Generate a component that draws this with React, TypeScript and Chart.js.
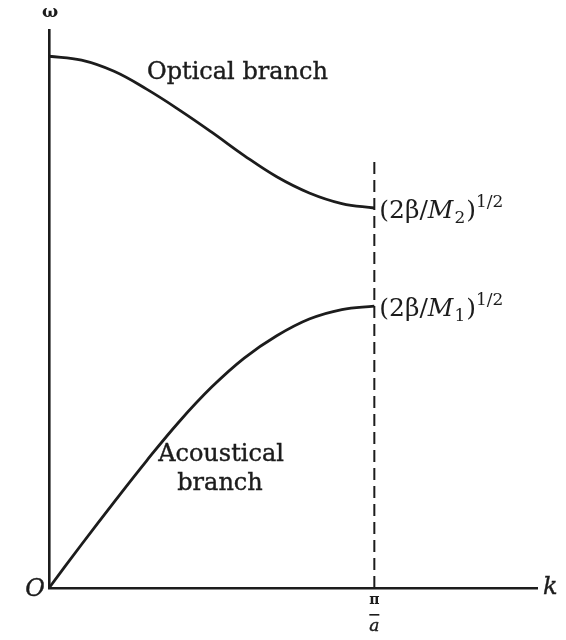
import { useEffect, useRef } from "react";
import { Chart, registerables } from "chart.js";

Chart.register(...registerables);

// Wave number k in units of pi/a, frequency omega in arbitrary units.
const kGrid = [0, 0.1, 0.2, 0.3, 0.4, 0.5, 0.6, 0.7, 0.8, 0.9, 1];
const wOptical = [0.953, 0.946, 0.926, 0.894, 0.857, 0.817, 0.775, 0.737, 0.708, 0.689, 0.681];
const wAcoustic = [0, 0.078, 0.154, 0.228, 0.298, 0.36, 0.412, 0.452, 0.482, 0.499, 0.505];

// Zone boundary at k = pi/a
const kZoneEdge = [1, 1];
const wZoneEdge = [0, 0.772];

const kMax = 1.5;
const wMax = 1;

const INK = "#1c1c1c";
const SERIF = '"DejaVu Serif", "Liberation Serif", serif';

type Piece = { text: string; font: string; dy?: number; dx?: number };

function drawPieces(ctx: CanvasRenderingContext2D, pieces: Piece[], x: number, y: number) {
  let cx = x;
  for (const p of pieces) {
    ctx.font = p.font;
    cx += p.dx ?? 0;
    ctx.fillText(p.text, cx, y + (p.dy ?? 0));
    cx += ctx.measureText(p.text).width;
  }
}

// slightly heavier text, like the printed labels
function inkText(ctx: CanvasRenderingContext2D, text: string, x: number, y: number) {
  ctx.fillText(text, x, y);
  ctx.strokeText(text, x, y);
}

const labelsPlugin = {
  id: "dispersionLabels",
  afterDraw(chart: any) {
    const { ctx } = chart;
    const xs = chart.scales.x;
    const ys = chart.scales.y;
    const x0 = xs.getPixelForValue(0);
    const y0 = ys.getPixelForValue(0);
    const xe = xs.getPixelForValue(1);
    ctx.save();
    ctx.fillStyle = INK;
    ctx.strokeStyle = INK;
    ctx.lineWidth = 0.4;

    // axis symbols
    ctx.textAlign = "center";
    ctx.textBaseline = "middle";
    ctx.font = `bold 17px ${SERIF}`;
    ctx.fillText("ω", x0 + 1, 13);

    ctx.textAlign = "right";
    ctx.font = `italic 24px ${SERIF}`;
    inkText(ctx, "O", x0 - 4, y0 + 2);

    ctx.textAlign = "left";
    inkText(ctx, "k", xs.right + 6, y0);

    // pi / a under the zone boundary
    ctx.textAlign = "center";
    ctx.font = `bold 14px ${SERIF}`;
    ctx.fillText("π", xe, y0 + 12);
    ctx.fillRect(xe - 5, y0 + 26, 10, 1.6);
    ctx.font = `italic 17px ${SERIF}`;
    inkText(ctx, "a", xe, y0 + 39);

    // branch names
    ctx.font = `24px ${SERIF}`;
    ctx.textAlign = "left";
    inkText(ctx, "Optical branch", 147, 73);
    ctx.textAlign = "center";
    inkText(ctx, "Acoustical", 221, 455);
    inkText(ctx, "branch", 220, 484);

    // limiting frequencies at the zone boundary
    ctx.textAlign = "left";
    ctx.textBaseline = "alphabetic";
    const main = `25px ${SERIF}`;
    const ital = `italic 25px ${SERIF}`;
    const small = `17px ${SERIF}`;
    const limits: [number, string][] = [
      [wOptical[wOptical.length - 1], "2"],
      [wAcoustic[wAcoustic.length - 1], "1"],
    ];
    for (const [w, idx] of limits) {
      const yb = ys.getPixelForValue(w) + 10;
      drawPieces(
        ctx,
        [
          { text: "(2β/", font: main },
          { text: "M", font: ital },
          { text: idx, font: small, dy: 5, dx: 1 },
          { text: ")", font: main, dx: 1 },
          { text: "1/2", font: small, dy: -11 },
        ],
        xe + 5,
        yb
      );
    }
    ctx.restore();
  },
};

export default function App() {
  const ref = useRef<HTMLCanvasElement | null>(null);

  useEffect(() => {
    if (!ref.current) return;
    const pts = (ks: number[], ws: number[]) => ks.map((k, i) => ({ x: k, y: ws[i] }));
    const chart = new Chart(ref.current, {
      type: "line",
      data: {
        datasets: [
          {
            label: "Optical branch",
            data: pts(kGrid, wOptical),
            borderColor: INK,
            borderWidth: 2.8,
            pointRadius: 0,
            tension: 0.4,
          },
          {
            label: "Acoustical branch",
            data: pts(kGrid, wAcoustic),
            borderColor: INK,
            borderWidth: 2.8,
            pointRadius: 0,
            tension: 0.4,
          },
          {
            label: "k = π/a",
            data: pts(kZoneEdge, wZoneEdge),
            borderColor: INK,
            borderWidth: 2,
            borderDash: [12, 6],
            pointRadius: 0,
          },
        ],
      },
      options: {
        responsive: false,
        animation: false,
        layout: { padding: { left: 49, right: 29, top: 30, bottom: 52 } },
        plugins: { legend: { display: false }, tooltip: { enabled: false } },
        scales: {
          x: {
            type: "linear",
            min: 0,
            max: kMax,
            ticks: { display: false },
            grid: { display: false, drawTicks: false },
            border: { display: true, color: INK, width: 2.6 },
          },
          y: {
            type: "linear",
            min: 0,
            max: wMax,
            ticks: { display: false },
            grid: { display: false, drawTicks: false },
            border: { display: true, color: INK, width: 2.6 },
          },
        },
      },
      plugins: [labelsPlugin],
    });
    return () => chart.destroy();
  }, []);

  return (
    <div style={{ position: "fixed", left: 0, top: 0, width: 566, height: 640, background: "#fff" }}>
      <canvas ref={ref} width={566} height={640} />
    </div>
  );
}
